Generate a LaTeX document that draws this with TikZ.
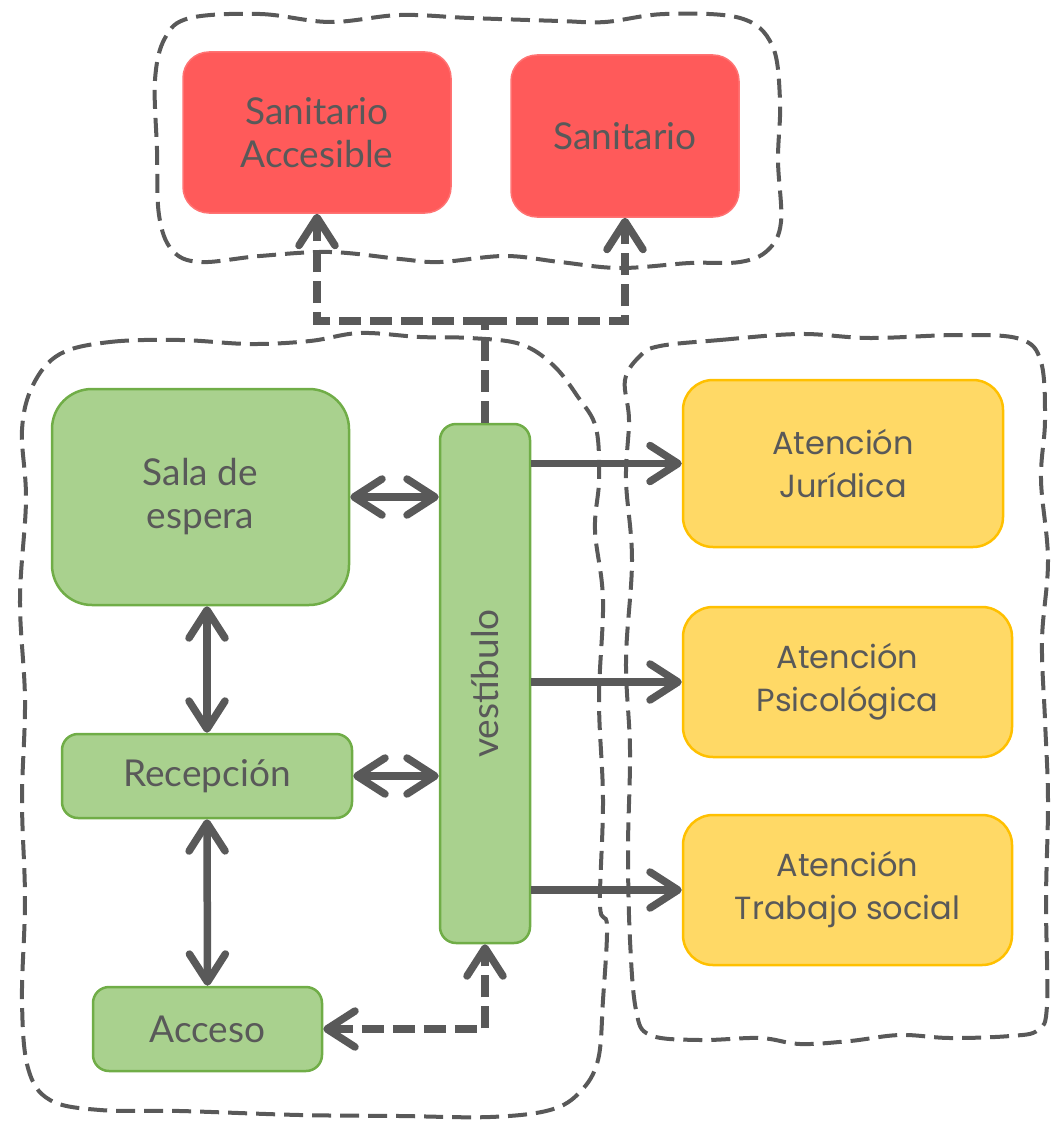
\documentclass[tikz,border=0pt]{standalone}
\usepackage{fontspec}
\setmainfont{Lato}
\newfontfamily\wideface{Poppins}
\usepackage{xcolor}
\definecolor{ink}{HTML}{595959}
\definecolor{wcred}{HTML}{FF5A5A}
\definecolor{leaf}{HTML}{A9D18E}
\definecolor{leafline}{HTML}{70AD47}
\definecolor{sun}{HTML}{FFD966}
\definecolor{sunline}{HTML}{FFC000}
\usepackage{tikz}
\usetikzlibrary{arrows.meta, positioning, calc}

\begin{document}
\begin{tikzpicture}[
    x=1pt, y=-1pt,
    every text node part/.style={align=center},
    room/.style={text=ink, inner sep=0pt, font=\fontsize{37}{43}\selectfont},
    wcroom/.style={room, fill=wcred, draw=wcred!85!white, line width=1.5pt, rounded corners=26pt},
    greenroom/.style={room, fill=leaf, draw=leafline, line width=2.5pt, rounded corners=16pt},
    careroom/.style={room, fill=sun, draw=sunline, line width=2.5pt, rounded corners=30pt, font=\wideface\fontsize{32}{43}\selectfont},
    tip/.tip={Straight Barb[length=28pt, width=36pt, round]},
    link/.style={draw=ink, line width=7.5pt, -tip},
    dlink/.style={draw=ink, line width=7.5pt, tip-tip},
    dashlink/.style={draw=ink, line width=7.5pt, dash pattern=on 22pt off 9pt},
    zone/.style={draw=ink, line width=4pt, dash pattern=on 19pt off 9pt}
]
\useasboundingbox (0,0) rectangle (1056,1124);

% zones
\draw[zone] plot[smooth cycle, tension=0.6] coordinates {
    (190,18) (260,14) (330,22) (400,15) (470,18) (560,21) (605,22) (665,14) (740,18)
    (772,45) (780,100) (778,160) (781,222) (768,250) (740,262) (690,263) (620,268)
    (560,262) (505,256) (440,262) (400,259) (330,252) (260,256) (200,262) (172,250)
    (159,215) (157,150) (155,80) (165,38)};
\draw[zone] plot[smooth cycle, tension=0.6] coordinates {
    (60,354) (110,342) (180,340) (250,344) (310,341) (360,333) (420,337) (470,338)
    (520,344) (553,365) (578,397) (596,428) (599,480) (595,530) (603,600) (599,700)
    (603,800) (600,905) (607,926) (603,1000) (598,1060) (580,1092) (550,1110)
    (490,1117) (400,1116) (300,1115) (180,1111) (100,1110) (50,1100) (28,1068)
    (22,1000) (25,900) (22,800) (25,700) (20,600) (26,500) (22,430) (33,385)};
\draw[zone] plot[smooth cycle, tension=0.6] coordinates {
    (660,346) (720,340) (800,334) (870,338) (960,335) (1020,339) (1041,362)
    (1045,420) (1041,480) (1048,560) (1042,640) (1045,720) (1048,800) (1046,900)
    (1047,1005) (1038,1030) (1010,1036) (950,1038) (900,1035) (850,1041) (800,1044)
    (760,1038) (700,1040) (650,1035) (636,1010) (630,940) (628,850) (630,750)
    (626,660) (632,560) (626,480) (629,420) (625,380) (640,356)};

% sanitarios
\node[wcroom, minimum width=268pt, minimum height=161pt] (wcA) at (317,132.5) {Sanitario\\Accesible};
\node[wcroom, minimum width=228pt, minimum height=162pt] (wc) at (625,136) {Sanitario};

% vestibulo y entrada
\node[greenroom, rounded corners=40pt, minimum width=297pt, minimum height=216pt] (sala) at (200.5,497) {Sala de\\espera};
\node[greenroom, minimum width=290pt, minimum height=84pt] (rec) at (207,776) {Recepción};
\node[greenroom, minimum width=229pt, minimum height=84pt] (acc) at (207.5,1029) {Acceso};
\node[greenroom, minimum width=90pt, minimum height=519pt] (vest) at (485,683.5) {\rotatebox{90}{vestíbulo}};

% atencion
\node[careroom, minimum width=320pt, minimum height=167pt] (jur) at (843,463.5) {Atención\\Jurídica};
\node[careroom, minimum width=329pt, minimum height=150pt] (psi) at (847.5,682) {Atención\\Psicológica};
\node[careroom, minimum width=329pt, minimum height=150pt] (ts) at (847.5,890) {Atención\\Trabajo social};

% connectors
\coordinate (split) at (485,321);
\draw[dashlink] (vest.north) -- (split);
\draw[dashlink, -tip] (split) -| (wcA.south);
\draw[dashlink, -tip] (split) -| (wc.south);
\draw[dashlink, tip-tip] (acc.east) -| (vest.south);

\draw[dlink] (sala.east) -- (sala.east -| vest.west);
\draw[dlink] (rec.north |- sala.south) -- (rec.north);
\draw[dlink] (rec.east) -- (rec.east -| vest.west);
\draw[dlink] (rec.south) -- (acc.north);

\draw[link] (vest.east |- jur.west) -- (jur.west);
\draw[link] (vest.east |- psi.west) -- (psi.west);
\draw[link] (vest.east |- ts.west) -- (ts.west);

\end{tikzpicture}
\end{document}
